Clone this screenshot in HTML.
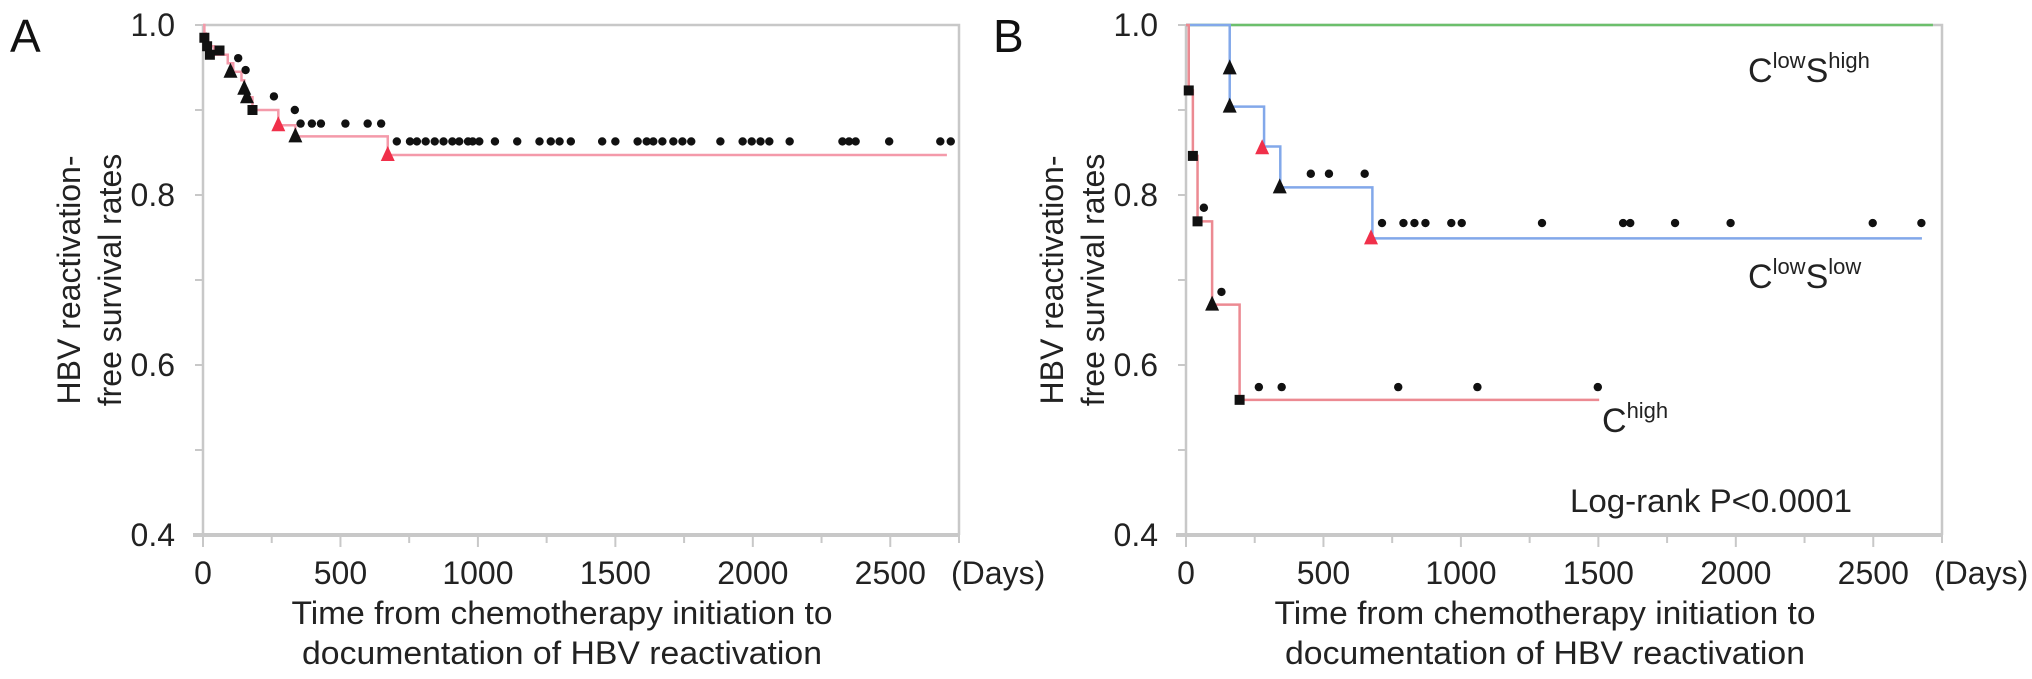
<!DOCTYPE html>
<html><head><meta charset="utf-8"><style>
html,body{margin:0;padding:0;background:#fff;}
svg{display:block;font-family:"Liberation Sans",sans-serif;}
</style></head><body>
<svg id="fig" width="2032" height="679" viewBox="0 0 2032 679" xmlns="http://www.w3.org/2000/svg"></svg>
<script>
// ---- data ----
const xTicks = [0, 500, 1000, 1500, 2000, 2500];
const yTicks = [0.4, 0.6, 0.8, 1.0];
const yTickLabels = ["0.4", "0.6", "0.8", "1.0"];

// Panel A
const aStepDays = [0, 5, 10, 20, 40, 90, 110, 140, 150, 160, 180, 274, 336, 672];
const aStepVals = [1.0, 0.99, 0.98, 0.975, 0.965, 0.955, 0.945, 0.935, 0.925, 0.915, 0.9, 0.882, 0.869, 0.847];
const aEnd = 2706;
const aSquareDays = [5, 15, 25, 60, 180];
const aSquareVals = [0.985, 0.975, 0.965, 0.97, 0.9];
const aTriDays = [100, 150, 160, 336];
const aTriVals = [0.945, 0.925, 0.915, 0.869];
const aRedTriDays = [274, 672];
const aRedTriVals = [0.882, 0.847];
const aCensorDays = [128, 155, 258, 334, 355, 396, 429, 518, 599, 648,
  705, 753, 778, 810, 843, 875, 907, 932, 964, 981, 1005, 1062, 1143, 1224, 1265, 1297, 1338,
  1452, 1500, 1581, 1614, 1638, 1671, 1711, 1744, 1776, 1882, 1963, 1996, 2028, 2060, 2134,
  2326, 2350, 2374, 2496, 2682, 2720];
const aCensorVals = [0.961, 0.947, 0.916, 0.9, 0.884, 0.884, 0.884, 0.884, 0.884, 0.884,
  0.863, 0.863, 0.863, 0.863, 0.863, 0.863, 0.863, 0.863, 0.863, 0.863, 0.863, 0.863, 0.863, 0.863, 0.863, 0.863, 0.863,
  0.863, 0.863, 0.863, 0.863, 0.863, 0.863, 0.863, 0.863, 0.863, 0.863, 0.863, 0.863, 0.863, 0.863, 0.863,
  0.863, 0.863, 0.863, 0.863, 0.863, 0.863];

// Panel B
const bGreenDays = [0];
const bGreenVals = [1.0];
const bGreenEnd = 2717;
const bBlueDays = [0, 159, 284, 343, 678];
const bBlueVals = [1.0, 0.904, 0.857, 0.809, 0.749];
const bBlueEnd = 2677;
const bRedDays = [0, 10, 25, 42, 95, 195];
const bRedVals = [1.0, 0.923, 0.846, 0.769, 0.671, 0.559];
const bRedEnd = 1503;
const bSquareDays = [10, 25, 42, 195];
const bSquareVals = [0.923, 0.846, 0.769, 0.559];
const bTriDays = [159, 159, 341, 95];
const bTriVals = [0.949, 0.904, 0.809, 0.671];
const bRedTriDays = [277, 673];
const bRedTriVals = [0.855, 0.749];
const bCensorDays = [454, 520, 650, 713, 791, 831, 871, 965, 1003, 1295, 1590, 1616, 1779, 1981, 2498, 2675,
  65, 129, 265, 348, 772, 1060, 1498];
const bCensorVals = [0.825, 0.825, 0.825, 0.767, 0.767, 0.767, 0.767, 0.767, 0.767, 0.767, 0.767, 0.767, 0.767, 0.767, 0.767, 0.767,
  0.785, 0.686, 0.574, 0.574, 0.574, 0.574, 0.574];

const NS = "http://www.w3.org/2000/svg";
const svg = document.getElementById("fig");
function mk(tag, attrs, parent) {
  const e = document.createElementNS(NS, tag);
  for (const k in attrs) e.setAttribute(k, attrs[k]);
  (parent || svg).appendChild(e);
  return e;
}
const TEXT = "#222";
const GRID = "#c8c8c8";

function panel(ox, letter) {
  const g = mk("g", {});
  
  
  const X0 = ox, X1 = ox + 756, Y0 = 535, Y1 = 25;
  const xs = d => X0 + d * (X1 - X0) / 2750;
  const ys = v => Y0 - (v - 0.4) * (Y0 - Y1) / 0.6;
  // frame
  const fr = mk("path", {d: `M${X0},${Y1}H${X1}V${Y0}`, fill: "none", stroke: GRID, "stroke-width": 2.5}, g);
  
  
  const ya = mk("line", {x1: X0, y1: Y1, x2: X0, y2: Y0, stroke: GRID, "stroke-width": 2.5}, g);
  
  
  const xa = mk("line", {x1: X0 - 10, y1: Y0, x2: X1, y2: Y0, stroke: GRID, "stroke-width": 4}, g);
  
  
  for (let d = 0; d <= 2750; d += 250) {
    const t = mk("line", {x1: xs(d), y1: Y0, x2: xs(d), y2: Y0 + (d % 500 === 0 ? 12 : 8), stroke: GRID, "stroke-width": 2}, g);
    
    
  }
  for (let v = 0.4; v <= 1.001; v += 0.1) {
    const t = mk("line", {x1: X0 - 8, y1: ys(v), x2: X0, y2: ys(v), stroke: GRID, "stroke-width": 2}, g);
    
    
  }
  xTicks.forEach(d => {
    const t = mk("text", {x: xs(d), y: 584, "text-anchor": "middle", "font-size": 32, fill: TEXT}, g);
    t.textContent = String(d);
    
    
  });
  yTicks.forEach((v, i) => {
    const t = mk("text", {x: X0 - 28, y: ys(v) + 11, "text-anchor": "end", "font-size": 32, fill: TEXT}, g);
    t.textContent = yTickLabels[i];
    
    
  });
  const days = mk("text", {x: X1 - 8, y: 584, "font-size": 32, fill: TEXT}, g);
  days.textContent = "(Days)";
  
  
  const xt1 = mk("text", {x: X0 + 359, y: 624, "text-anchor": "middle", "font-size": 32, fill: TEXT, textLength: 541, lengthAdjust: "spacingAndGlyphs"}, g);
  xt1.textContent = "Time from chemotherapy initiation to";
  
  
  const xt2 = mk("text", {x: X0 + 359, y: 664, "text-anchor": "middle", "font-size": 32, fill: TEXT, textLength: 520, lengthAdjust: "spacingAndGlyphs"}, g);
  xt2.textContent = "documentation of HBV reactivation";
  
  
  const cy = 280;
  const yt1 = mk("text", {x: 0, y: 0, "text-anchor": "middle", "font-size": 32, fill: TEXT, transform: `translate(${X0 - 123},${cy}) rotate(-90)`}, g);
  yt1.textContent = "HBV reactivation-";
  
  
  const yt2 = mk("text", {x: 0, y: 0, "text-anchor": "middle", "font-size": 32, fill: TEXT, transform: `translate(${X0 - 82},${cy}) rotate(-90)`}, g);
  yt2.textContent = "free survival rates";
  
  
  const L = mk("text", {x: ox - 193, y: 52, "font-size": 46, fill: "#111"}, g);
  L.textContent = letter;
  
  
  return {g, xs, ys};
}

function step(p, days, vals, end, color, name) {
  let d = `M${p.xs(days[0])},${p.ys(vals[0])}`;
  for (let i = 1; i < days.length; i++) {
    d += `H${p.xs(days[i])}V${p.ys(vals[i])}`;
  }
  d += `H${p.xs(end)}`;
  const e = mk("path", {d, fill: "none", stroke: color, "stroke-width": 2.5}, p.g);
  
  
}
function squares(p, days, vals) {
  days.forEach((dd, i) => {
    const e = mk("rect", {x: p.xs(dd) - 5, y: p.ys(vals[i]) - 5, width: 10, height: 10, fill: "#111"}, p.g);
    
    
  });
}
function tris(p, days, vals, color, name) {
  days.forEach((dd, i) => {
    const x = p.xs(dd), y = p.ys(vals[i]);
    const e = mk("path", {d: `M${x},${y - 9}L${x + 7},${y + 6}L${x - 7},${y + 6}Z`, fill: color}, p.g);
    
    
  });
}
function dots(p, days, vals) {
  days.forEach((dd, i) => {
    const e = mk("circle", {cx: p.xs(dd), cy: p.ys(vals[i]), r: 4.2, fill: "#111"}, p.g);
    
    
  });
}

const A = panel(203, "A");
step(A, aStepDays, aStepVals, aEnd, "#f49aaa", "survival-line-all");
squares(A, aSquareDays, aSquareVals);
tris(A, aTriDays, aTriVals, "#111", "event-triangle");
tris(A, aRedTriDays, aRedTriVals, "#f0304a", "event-triangle-red");
dots(A, aCensorDays, aCensorVals);

const B = panel(1186, "B");
step(B, bGreenDays, bGreenVals, bGreenEnd, "#6cbf6c", "survival-line-clow-shigh");
step(B, bBlueDays, bBlueVals, bBlueEnd, "#82a8ea", "survival-line-clow-slow");
step(B, bRedDays, bRedVals, bRedEnd, "#ec8a92", "survival-line-chigh");
squares(B, bSquareDays, bSquareVals);
tris(B, bTriDays, bTriVals, "#111", "event-triangle");
tris(B, bRedTriDays, bRedTriVals, "#f0304a", "event-triangle-red");
dots(B, bCensorDays, bCensorVals);

function grpLabel(x, y, parts, name) {
  const t = mk("text", {x, y, "font-size": 34, fill: TEXT}, B.g);
  
  
  parts.forEach(pp => {
    const s = mk("tspan", pp[1] ? {"font-size": 22, dy: pp[2]} : {"font-size": 34, dy: pp[2]}, t);
    s.textContent = pp[0];
  });
}
grpLabel(1748, 82, [["C", false, 0], ["low", true, -14], ["S", false, 14], ["high", true, -14]], "label-clow-shigh");
grpLabel(1748, 288, [["C", false, 0], ["low", true, -14], ["S", false, 14], ["low", true, -14]], "label-clow-slow");
grpLabel(1602, 432, [["C", false, 0], ["high", true, -14]], "label-chigh");
const lr = mk("text", {x: 1570, y: 512, "font-size": 32, fill: TEXT, textLength: 282, lengthAdjust: "spacingAndGlyphs"}, B.g);
lr.textContent = "Log-rank P<0.0001";


</script>
</body></html>
